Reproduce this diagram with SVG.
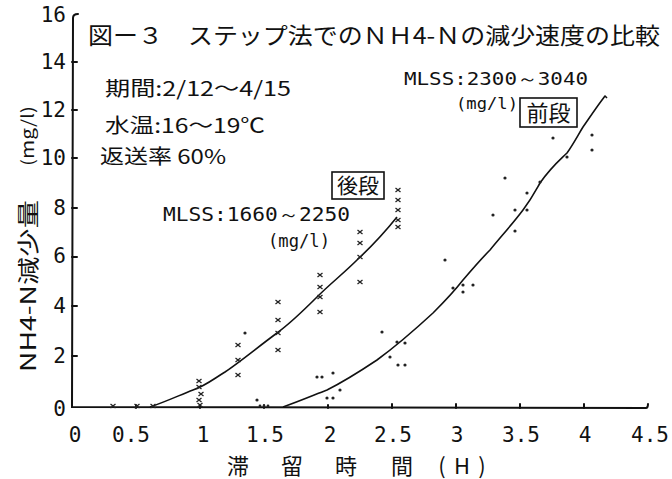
<svg xmlns="http://www.w3.org/2000/svg" width="672" height="479" viewBox="0 0 672 479">
<style>
.ax{fill:none;stroke:#111;stroke-width:2;stroke-linecap:round}
.cv{fill:none;stroke:#111;stroke-width:1.6;stroke-linejoin:round}
.t{font-family:"Noto Sans CJK JP","DejaVu Sans",sans-serif;fill:#111}
.n{font-family:"DejaVu Sans Mono","Liberation Mono",monospace;fill:#111}
.box{fill:none;stroke:#111;stroke-width:1.6}
.dot{fill:#222}
.xm{fill:none;stroke:#222;stroke-width:1.3}
</style>
<defs>
<g id="cross"><path class="xm" d="M-2.5,-2 L2.5,2 M-2.5,2 L2.5,-2"/></g>
</defs>
<rect width="672" height="479" fill="#fff"/>

<g id="axes">
<path class="ax" d="M78,14 Q73,14 73,18 L72,407 L646,408 Q648,408 648,404"/>
<path class="ax" d="M72,62 h5 M72,110 h5 M72,158 h5 M72,208 h5 M72,257 h5 M72,306 h5 M72,356 h5"/>
<path class="ax" d="M136,408 v-3 M200,408 v-3 M264,408 v-3 M328,408 v-3 M392,408 v-4 M456,408 v-4 M520,408 v-4 M584,408 v-4"/>
</g>

<g id="y-labels" class="n" font-size="21" text-anchor="end">
<text x="66" y="22">16</text>
<text x="66" y="69">14</text>
<text x="66" y="117">12</text>
<text x="66" y="165">10</text>
<text x="66" y="215">8</text>
<text x="66" y="263">6</text>
<text x="66" y="313">4</text>
<text x="66" y="363">2</text>
<text x="66" y="416">0</text>
</g>

<g id="x-labels" class="n" font-size="21" text-anchor="middle">
<text x="75" y="442">0</text>
<text x="131" y="442">0.5</text>
<text x="203" y="442">1</text>
<text x="265" y="442">1.5</text>
<text x="330" y="442">2</text>
<text x="393" y="442">2.5</text>
<text x="457" y="442">3</text>
<text x="521" y="442">3.5</text>
<text x="585" y="442">4</text>
<text x="650" y="442">4.5</text>
</g>

<g id="x-title" class="t" font-size="22" text-anchor="middle">
<text y="474"><tspan x="238">滞</tspan><tspan x="292">留</tspan><tspan x="346">時</tspan><tspan x="402">間</tspan><tspan x="442">(</tspan><tspan x="462">H</tspan><tspan x="482">)</tspan></text>
</g>

<g id="y-title" class="t">
<text font-size="22" transform="translate(36,372) rotate(-90)" textLength="172" lengthAdjust="spacingAndGlyphs">NH4-N減少量</text>
<text font-size="17" transform="translate(34,166) rotate(-90)" textLength="60" lengthAdjust="spacingAndGlyphs">(mg/l)</text>
</g>

<g id="title">
<text class="t" x="88" y="44" font-size="23" textLength="572" lengthAdjust="spacingAndGlyphs">図ー３　ステップ法でのＮＨ4-Ｎの減少速度の比較</text>
</g>

<g id="conditions" class="t" font-size="20">
<text x="105" y="96" textLength="186" lengthAdjust="spacingAndGlyphs">期間:2/12～4/15</text>
<text x="105" y="133" textLength="160" lengthAdjust="spacingAndGlyphs">水温:16～19℃</text>
<text x="100" y="164" textLength="126" lengthAdjust="spacingAndGlyphs">返送率 60%</text>
</g>

<g id="label-zendan">
<text class="n" x="404" y="85" font-size="18" textLength="184" lengthAdjust="spacingAndGlyphs">MLSS:2300～3040</text>
<text class="n" x="456" y="109" font-size="16" textLength="62" lengthAdjust="spacingAndGlyphs">(mg/l)</text>
<rect class="box" x="520" y="98" width="57" height="29"/>
<text class="t" x="548.5" y="121" font-size="22" text-anchor="middle">前段</text>
</g>

<g id="label-kodan">
<rect class="box" x="332" y="172" width="52" height="27"/>
<text class="t" x="358" y="193" font-size="21" text-anchor="middle">後段</text>
<text class="n" x="163" y="221" font-size="19" textLength="187" lengthAdjust="spacingAndGlyphs">MLSS:1660～2250</text>
<text class="n" x="268" y="247" font-size="17" textLength="62" lengthAdjust="spacingAndGlyphs">(mg/l)</text>
</g>

<g id="connectors">
<path class="cv" d="M150,407 C165,402 180,395 193,390 C205,386 212,380 225,372 C240,362 258,347 277,333 C292,322 305,309 317,297 C330,284 344,273 357,260 C372,246 385,232 397,217"/>
<path class="cv" d="M283,407 C300,401 314,395 327,390 C345,381 362,370 377,360 C392,349 420,325 433,313 C448,298 456,289 463,280 C475,266 482,258 490,250 C505,232 514,222 523,210 C532,198 536,190 540,183 C552,166 560,160 567,153 C574,143 578,135 583,127 C590,117 596,108 602,100 L605,96 L607,98"/>
</g>

<g id="kodan-points">
<use href="#cross" x="113" y="406"/><use href="#cross" x="137" y="406"/><use href="#cross" x="153" y="406"/>
<use href="#cross" x="199" y="381"/><use href="#cross" x="199" y="387"/><use href="#cross" x="201" y="394"/><use href="#cross" x="199" y="400"/><use href="#cross" x="200" y="405"/>
<use href="#cross" x="238" y="345"/><use href="#cross" x="238" y="360"/><use href="#cross" x="238" y="375"/>
<use href="#cross" x="278" y="302"/><use href="#cross" x="278" y="320"/><use href="#cross" x="278" y="333"/><use href="#cross" x="278" y="350"/>
<use href="#cross" x="320" y="275"/><use href="#cross" x="320" y="287"/><use href="#cross" x="320" y="297"/><use href="#cross" x="320" y="312"/>
<use href="#cross" x="360" y="232"/><use href="#cross" x="360" y="243"/><use href="#cross" x="360" y="257"/><use href="#cross" x="360" y="282"/>
<use href="#cross" x="398" y="190"/><use href="#cross" x="398" y="200"/><use href="#cross" x="398" y="210"/><use href="#cross" x="398" y="220"/><use href="#cross" x="398" y="227"/>
</g>

<g id="zendan-points" class="dot">
<circle cx="245" cy="333" r="1.6"/><circle cx="257" cy="400" r="1.6"/>
<circle cx="260" cy="406" r="1.4"/><circle cx="264" cy="406" r="1.4"/><circle cx="268" cy="406" r="1.4"/>
<circle cx="317" cy="377" r="1.6"/><circle cx="322" cy="377" r="1.6"/><circle cx="333" cy="373" r="1.6"/>
<circle cx="340" cy="390" r="1.6"/><circle cx="327" cy="398" r="1.6"/><circle cx="333" cy="398" r="1.6"/>
<circle cx="382" cy="332" r="1.6"/><circle cx="397" cy="342" r="1.6"/><circle cx="405" cy="343" r="1.6"/>
<circle cx="390" cy="357" r="1.6"/><circle cx="398" cy="365" r="1.6"/><circle cx="405" cy="365" r="1.6"/>
<circle cx="445" cy="260" r="1.6"/><circle cx="453" cy="288" r="1.6"/><circle cx="463" cy="285" r="1.6"/><circle cx="473" cy="285" r="1.6"/><circle cx="463" cy="292" r="1.6"/>
<circle cx="493" cy="215" r="1.6"/><circle cx="515" cy="210" r="1.6"/><circle cx="515" cy="231" r="1.6"/><circle cx="527" cy="210" r="1.6"/><circle cx="527" cy="193" r="1.6"/>
<circle cx="505" cy="178" r="1.6"/><circle cx="540" cy="182" r="1.6"/>
<circle cx="553" cy="138" r="1.6"/><circle cx="567" cy="157" r="1.6"/><circle cx="592" cy="135" r="1.6"/><circle cx="592" cy="150" r="1.6"/>
</g>
</svg>
